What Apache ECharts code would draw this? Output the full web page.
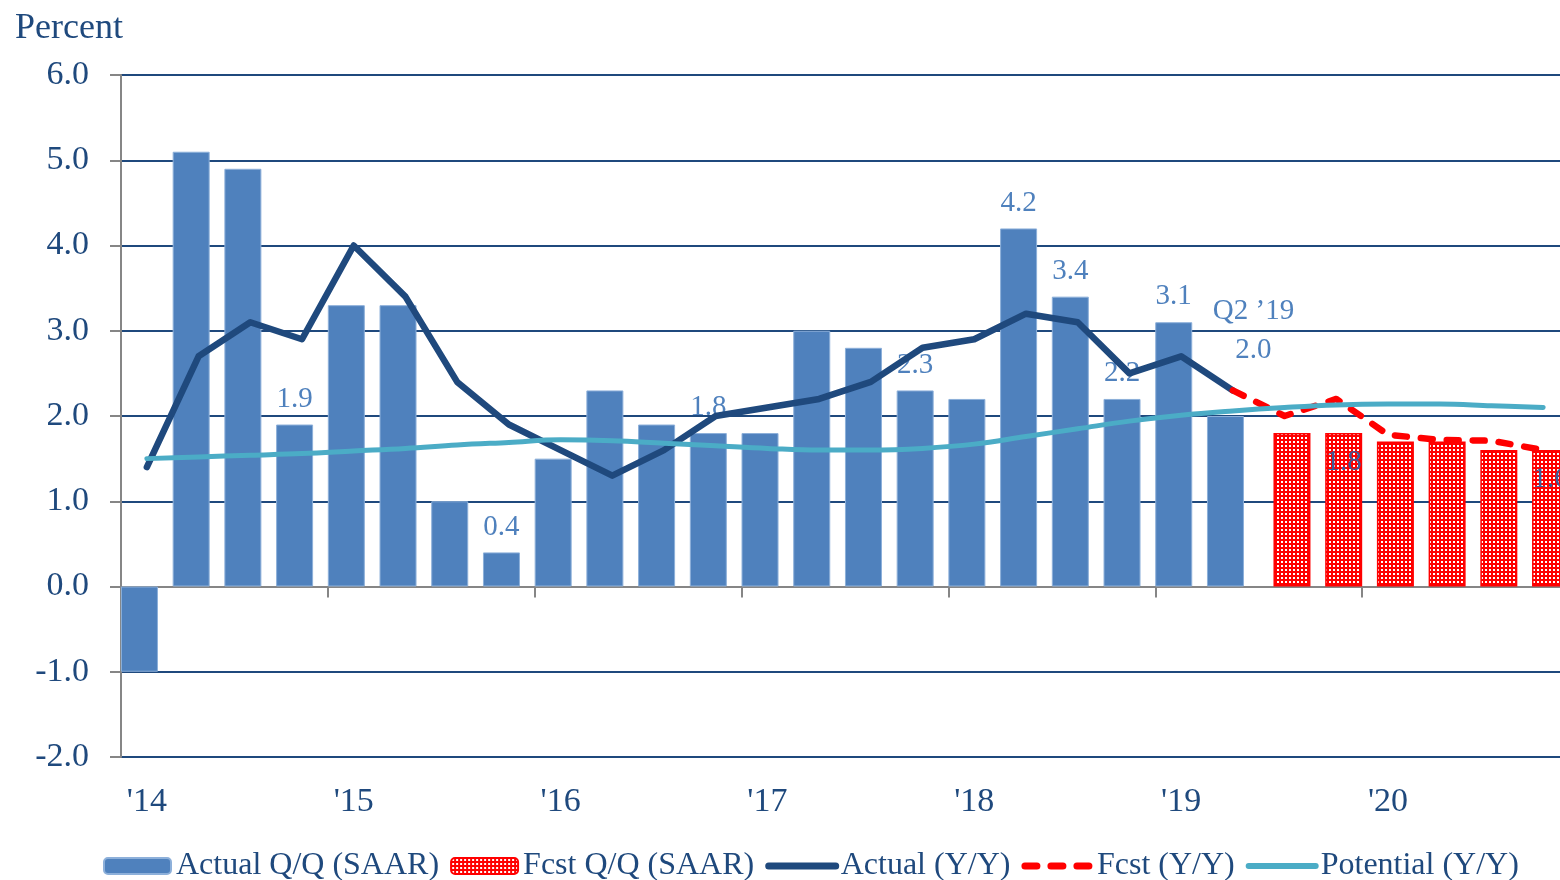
<!DOCTYPE html>
<html>
<head>
<meta charset="utf-8">
<script src="https://cdn.jsdelivr.net/npm/echarts@6/dist/echarts.min.js"></script>
<style>
	html, body { margin: 0; padding: 0; background: #fff; }
	#chart-box { width: 1560px; height: 880px; }
</style>
</head>
<body>
<div id="chart-box"></div>
<script>
let quarters = ["Q1 '14", "Q2 '14", "Q3 '14", "Q4 '14", "Q1 '15", "Q2 '15", "Q3 '15", "Q4 '15",
	"Q1 '16", "Q2 '16", "Q3 '16", "Q4 '16", "Q1 '17", "Q2 '17", "Q3 '17", "Q4 '17",
	"Q1 '18", "Q2 '18", "Q3 '18", "Q4 '18", "Q1 '19", "Q2 '19", "Q3 '19", "Q4 '19",
	"Q1 '20", "Q2 '20", "Q3 '20", "Q4 '20"]

let actualQQ = [-1.0, 5.1, 4.9, 1.9, 3.3, 3.3, 1.0, 0.4, 1.5, 2.3, 1.9, 1.8, 1.8, 3.0, 2.8, 2.3,
	2.2, 4.2, 3.4, 2.2, 3.1, 2.0, "-", "-", "-", "-", "-", "-"]
let fcstQQ = ["-", "-", "-", "-", "-", "-", "-", "-", "-", "-", "-", "-", "-", "-", "-", "-",
	"-", "-", "-", "-", "-", "-", 1.8, 1.8, 1.7, 1.7, 1.6, 1.6]
let actualYY = [1.4, 2.7, 3.1, 2.9, 4.0, 3.4, 2.4, 1.9, 1.6, 1.3, 1.6, 2.0, 2.1, 2.2, 2.4, 2.8,
	2.9, 3.2, 3.1, 2.5, 2.7, 2.3, "-", "-", "-", "-", "-", "-"]
let fcstYY = ["-", "-", "-", "-", "-", "-", "-", "-", "-", "-", "-", "-", "-", "-", "-", "-",
	"-", "-", "-", "-", "-", 2.3, 2.0, 2.2, 1.78, 1.72, 1.71, 1.6]
let potentialYY = [1.50, 1.52, 1.54, 1.56, 1.59, 1.62, 1.66, 1.69, 1.72, 1.71, 1.68, 1.65, 1.62, 1.60, 1.60, 1.62,
	1.67, 1.76, 1.85, 1.94, 2.01, 2.06, 2.10, 2.13, 2.14, 2.14, 2.12, 2.10]

// which bars carry a value label
let actualLabelIdx = [3, 7, 11, 15, 17, 18, 19, 20]
let fcstLabelIdx = [23, 27]
let calloutIdx = 21
let calloutText = "Q2 \u201919"

let navy = "#1F497D"
let font = "'Liberation Serif', 'Times New Roman', serif"

// red dotted fill for the forecast bars
let patternCanvas = document.createElement("canvas")
patternCanvas.width = 4
patternCanvas.height = 4
{
	let ctx = patternCanvas.getContext("2d")
	ctx.fillStyle = "#FF0000"
	ctx.fillRect(0, 0, 4, 4)
	ctx.fillStyle = "#FFFFFF"
	ctx.fillRect(1, 1, 2, 2)
}
let redPattern = { image: patternCanvas, repeat: "repeat" }

let actualData = actualQQ.map(function (v, i) {
	let item = { value: v }
	if (actualLabelIdx.indexOf(i) >= 0) {
		item.label = { show: true }
	}
	if (i == calloutIdx) {
		item.label = {
			show: true,
			formatter: calloutText + "\n" + v.toFixed(1),
			lineHeight: 39,
			offset: [28, -35]
		}
	}
	return item
})

let fcstData = fcstQQ.map(function (v, i) {
	let item = { value: v }
	if (fcstLabelIdx.indexOf(i) >= 0) {
		item.label = { show: true }
	}
	return item
})

let chart = echarts.init(document.getElementById("chart-box"))

let option = {
	animation: false,
	textStyle: { fontFamily: font },
	title: {
		text: "Percent",
		left: 10,
		top: 6,
		textStyle: { fontFamily: font, fontSize: 36, fontWeight: "normal", color: navy }
	},
	grid: {
		left: 121,
		right: -9,
		top: 75,
		bottom: 123,
		containLabel: false,
		outerBoundsMode: "none"
	},
	legend: {
		left: 98,
		top: 845,
		itemWidth: 67,
		itemHeight: 16,
		itemGap: 11,
		textStyle: { fontFamily: font, fontSize: 32, color: navy },
		data: [
			{ name: "Actual Q/Q (SAAR)" },
			{ name: "Fcst Q/Q (SAAR)" },
			{ name: "Actual (Y/Y)", lineStyle: { width: 7, cap: "round" }, itemStyle: { opacity: 0 } },
			{ name: "Fcst (Y/Y)", lineStyle: { width: 7, cap: "round" }, itemStyle: { opacity: 0 } },
			{ name: "Potential (Y/Y)", lineStyle: { width: 6, cap: "round" }, itemStyle: { opacity: 0 } }
		]
	},
	xAxis: {
		type: "category",
		data: quarters,
		axisLine: { onZero: true, lineStyle: { color: "#868686", width: 2 } },
		axisTick: { show: true, interval: 3, length: 11, lineStyle: { color: "#868686", width: 2 } },
		axisLabel: {
			interval: 3,
			margin: 28,
			fontFamily: font,
			fontSize: 34,
			color: navy,
			formatter: function (v) {
				return v.split(" ")[1]
			}
		},
		splitLine: { show: false }
	},
	yAxis: {
		type: "value",
		min: -2,
		max: 6,
		interval: 1,
		axisLine: { show: true, lineStyle: { color: "#868686", width: 2 } },
		axisTick: { show: true, length: 11, lineStyle: { color: "#868686", width: 2 } },
		axisLabel: {
			margin: 32,
			fontFamily: font,
			fontSize: 34,
			color: navy,
			formatter: function (v) {
				return v.toFixed(1)
			}
		},
		splitLine: { show: true, lineStyle: { color: navy, width: 2 } }
	},
	series: [
		{
			name: "Actual Q/Q (SAAR)",
			type: "bar",
			data: actualData,
			barWidth: 37,
			barGap: "-60%",
			itemStyle: { color: "#4F81BD", borderColor: "#8DB0DA", borderWidth: 1 },
			label: {
				show: false,
				position: "top",
				distance: 11,
				fontFamily: font,
				fontSize: 29,
				color: "#4F81BD",
				formatter: function (p) {
					return p.value.toFixed(1)
				}
			}
		},
		{
			name: "Fcst Q/Q (SAAR)",
			type: "bar",
			data: fcstData,
			barWidth: 37,
			barGap: "-60%",
			itemStyle: { color: redPattern, borderColor: "#FF0000", borderWidth: 1.5 },
			label: {
				show: false,
				position: "insideTop",
				distance: 15,
				fontFamily: font,
				fontSize: 29,
				color: "#3D5A98",
				formatter: function (p) {
					return p.value.toFixed(1)
				}
			}
		},
		{
			name: "Actual (Y/Y)",
			type: "line",
			data: actualYY,
			symbol: "none",
			lineStyle: { color: navy, width: 6.5, cap: "round", join: "round" },
			itemStyle: { color: navy },
			z: 3
		},
		{
			name: "Fcst (Y/Y)",
			type: "line",
			data: fcstYY,
			symbol: "none",
			lineStyle: { color: "#FF0000", width: 6.5, type: [12, 14], cap: "round", join: "round" },
			itemStyle: { color: "#FF0000" },
			z: 3
		},
		{
			name: "Potential (Y/Y)",
			type: "line",
			data: potentialYY,
			symbol: "none",
			smooth: 0.4,
			lineStyle: { color: "#4BACC6", width: 5, cap: "round" },
			itemStyle: { color: "#4BACC6" },
			z: 3
		}
	]
}
chart.setOption(option)
</script>
</body>
</html>
